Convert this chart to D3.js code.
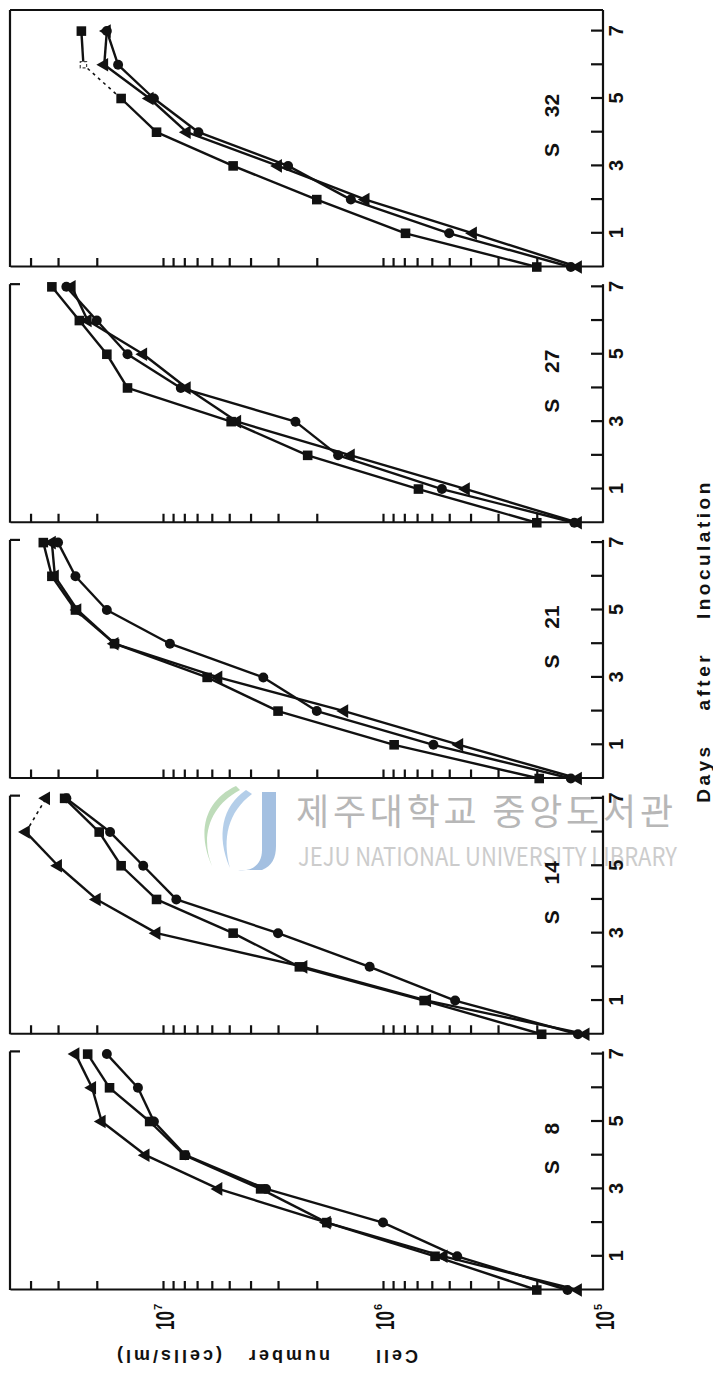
<!DOCTYPE html>
<html>
<head>
  <meta charset="utf-8">
  <title>Cell number after inoculation</title>
  <script src="https://d3js.org/d3.v7.min.js"></script>
  <style>
    body { margin: 0; background: #fff; }
    text { font-family: "Liberation Sans", Arial, sans-serif; font-weight: bold; fill: #111; }
    .frame line, .frame path { stroke: #111; stroke-width: 2.2; }
    .seg { stroke: #111; fill: none; }
    text.wm { font-family: "Noto Sans CJK KR", sans-serif; font-weight: normal; }
  </style>
</head>
<body>
<svg width="713" height="1374"></svg>
<script>
// ---- data (cells/ml, one value per day) ----
var days = [0, 1, 2, 3, 4, 5, 6, 7];
var strains = ["S 8", "S 14", "S 21", "S 27", "S 32"];
var dayTickLabels = [1, 3, 5, 7];
var cellTickLabels = [1e5, 1e6, 1e7];

var circleS8   = [1.45e5, 4.6e5, 1.0e6, 3.4e6, 7.9e6, 1.1e7, 1.3e7, 1.8e7];
var squareS8   = [2.0e5, 5.8e5, 1.8e6, 3.6e6, 8.0e6, 1.15e7, 1.75e7, 2.2e7];
var triangleS8 = [1.3e5, 5.3e5, 1.8e6, 5.6e6, 1.2e7, 1.9e7, 2.1e7, 2.5e7];

var circleS14   = [1.3e5, 4.7e5, 1.15e6, 3.0e6, 8.7e6, 1.23e7, 1.74e7, 2.75e7];
var squareS14   = [1.9e5, 6.5e5, 2.4e6, 4.8e6, 1.07e7, 1.55e7, 1.95e7, 2.8e7];
var triangleS14 = [1.2e5, 6.3e5, 2.3e6, 1.07e7, 2.0e7, 3.0e7, 4.2e7, 3.4e7];

var circleS21   = [1.4e5, 5.9e5, 2.0e6, 3.5e6, 9.3e6, 1.8e7, 2.5e7, 3.0e7];
var squareS21   = [1.95e5, 8.9e5, 3.0e6, 6.3e6, 1.66e7, 2.5e7, 3.2e7, 3.5e7];
var triangleS21 = [1.3e5, 4.5e5, 1.5e6, 5.6e6, 1.66e7, 2.45e7, 3.1e7, 3.2e7];

var circleS27   = [1.35e5, 5.4e5, 1.6e6, 2.5e6, 8.3e6, 1.45e7, 2.0e7, 2.75e7];
var squareS27   = [2.0e5, 6.9e5, 2.2e6, 4.9e6, 1.45e7, 1.8e7, 2.4e7, 3.2e7];
var triangleS27 = [1.3e5, 4.2e5, 1.4e6, 4.6e6, 7.8e6, 1.23e7, 2.2e7, 2.6e7];

var circleS32   = [1.4e5, 5.0e5, 1.4e6, 2.7e6, 6.9e6, 1.1e7, 1.6e7, 1.8e7];
var squareS32   = [2.0e5, 7.9e5, 2.0e6, 4.8e6, 1.07e7, 1.55e7, 2.3e7, 2.35e7];
var triangleS32 = [1.3e5, 3.9e5, 1.2e6, 3.0e6, 7.8e6, 1.15e7, 1.85e7, 1.8e7];

// segments drawn dashed: series of a strain, from day -> day+1
var dashed = [
  {strain: "S 14", series: "triangle", from: 6},
  {strain: "S 32", series: "square", from: 5}
];
// points printed only faintly (open mark)
var faint = [
  {strain: "S 32", series: "square", day: 6}
];

var seriesByStrain = [
  {circle: circleS8,  square: squareS8,  triangle: triangleS8},
  {circle: circleS14, square: squareS14, triangle: triangleS14},
  {circle: circleS21, square: squareS21, triangle: triangleS21},
  {circle: circleS27, square: squareS27, triangle: triangleS27},
  {circle: circleS32, square: squareS32, triangle: triangleS32}
];

var symbols = {circle: d3.symbolCircle, square: d3.symbolSquare, triangle: d3.symbolTriangle};
var symbolSize = {circle: 78, square: 92, triangle: 80};

var svg = d3.select("svg"),
    W = +svg.attr("width"),
    H = +svg.attr("height");

// library watermark of the scan, under the drawing
var wm = svg.append("g").attr("opacity", 0.85);
wm.append("path")
    .attr("d", "M236,786 C206,800 196,830 212,866 C200,836 210,806 240,790 Z")
    .style("fill", "#b3d6ae");
wm.append("path")
    .attr("d", "M246,790 C222,806 216,836 230,868 C222,838 228,812 252,794 Z")
    .style("fill", "#a8c6e6");
wm.append("path")
    .attr("d", "M262,792 L262,850 C262,866 250,872 238,870 L262,870 C272,866 276,858 276,846 L276,792 Z")
    .style("fill", "#95b6dc");
wm.append("text").attr("class", "wm").attr("x", 296).attr("y", 825)
    .attr("font-size", 36).attr("textLength", 377)
    .style("fill", "#ababab")
    .text("제주대학교 중앙도서관");
wm.append("text").attr("class", "wm").attr("x", 298).attr("y", 866)
    .attr("font-size", 25).attr("textLength", 379).attr("lengthAdjust", "spacingAndGlyphs")
    .style("fill", "#c4c4c4")
    .text("JEJU NATIONAL UNIVERSITY LIBRARY");

// ---- the figure is drawn upright, then turned a quarter turn ----
var fig = svg.append("g")
    .attr("transform", "translate(0," + H + ") rotate(-90)");

var firstDay0 = 84, panelStep = 255.75, dayPx = 33.7;
var axisV = 603, topV = 10;

var y = d3.scaleLog().domain([1e5, 4.96e7]).range([axisV, topV]);

strains.forEach(function(name, i) {
  var u0 = firstDay0 + i * panelStep;
  var x = d3.scaleLinear().domain([0, 7]).range([u0, u0 + 7 * dayPx]);
  var last = i === strains.length - 1;
  var uEnd = last ? H - 10 : x(7.08);

  var g = fig.append("g").attr("class", "frame");

  // cell-number axis (inner ticks)
  g.append("g")
      .attr("transform", "translate(" + u0 + ",0)")
      .call(d3.axisLeft(y).tickSize(-9).tickSizeOuter(0).tickFormat(""))
      .call(function(a) { a.selectAll(".tick").filter(function(d) { return d <= 1e5; }).remove(); });

  // day axis
  g.append("line").attr("x1", u0).attr("x2", uEnd).attr("y1", axisV).attr("y2", axisV);
  var dayAxis = g.append("g")
      .attr("transform", "translate(0," + axisV + ")")
      .call(d3.axisBottom(x).tickValues(days.slice(1)).tickSize(-12).tickSizeOuter(0)
            .tickPadding(6).tickFormat(function(d) { return dayTickLabels.indexOf(d) >= 0 ? d : ""; }));
  dayAxis.select(".domain").remove();
  dayAxis.selectAll("text").attr("font-size", 20).attr("fill", "#111")
      .style("font-family", "'Liberation Sans', Arial, sans-serif").style("font-weight", "bold");

  // top border and corner hook
  g.append("line").attr("x1", u0).attr("x2", uEnd).attr("y1", topV).attr("y2", topV);
  g.append("line").attr("x1", uEnd).attr("x2", uEnd).attr("y1", topV).attr("y2", last ? axisV : topV + 10);

  // panel title
  fig.append("text")
      .attr("x", x(4.2)).attr("y", 559)
      .attr("text-anchor", "middle")
      .attr("font-size", 21)
      .style("word-spacing", "20px")
      .text(name);

  // series
  var ser = seriesByStrain[i];
  ["triangle", "square", "circle"].forEach(function(key) {
    var vals = ser[key];
    for (var k = 0; k < days.length - 1; k++) {
      var isDashed = dashed.some(function(d) { return d.strain === name && d.series === key && d.from === days[k]; });
      fig.append("line").attr("class", "seg")
          .attr("x1", x(days[k])).attr("y1", y(vals[k]))
          .attr("x2", x(days[k + 1])).attr("y2", y(vals[k + 1]))
          .attr("stroke-dasharray", isDashed ? "3,4" : null)
          .attr("stroke-width", isDashed ? 1.6 : 2.4);
    }
    var isFaint = function(k) {
      return faint.some(function(f) { return f.strain === name && f.series === key && f.day === days[k]; });
    };
    fig.append("g").selectAll("path")
        .data(vals)
        .enter().append("path")
        .attr("transform", function(d, k) { return "translate(" + x(days[k]) + "," + y(d) + ")"; })
        .attr("d", function(d, k) {
          return d3.symbol().type(symbols[key]).size(isFaint(k) ? 40 : symbolSize[key])();
        })
        .attr("fill", function(d, k) { return isFaint(k) ? "#fff" : "#111"; })
        .attr("stroke", function(d, k) { return isFaint(k) ? "#444" : "none"; })
        .attr("stroke-width", 1.2)
        .attr("stroke-dasharray", function(d, k) { return isFaint(k) ? "3,2" : null; });
  });
});

// cell-number labels on first panel
var labels = fig.append("g");
cellTickLabels.forEach(function(v) {
  labels.append("text")
      .attr("x", 44).attr("y", y(v) + 11)
      .attr("font-size", 25)
      .attr("textLength", 19).attr("lengthAdjust", "spacingAndGlyphs")
      .text("10");
  labels.append("text")
      .attr("x", 64).attr("y", y(v) - 1)
      .attr("font-size", 11)
      .text(Math.round(Math.log10(v)));
});

var yl = fig.append("text")
    .attr("transform", "translate(24,418) rotate(-90)")
    .attr("font-size", 18)
    .style("letter-spacing", "3px");
yl.append("tspan").text("Cell");
yl.append("tspan").attr("dx", 43).text("number");
yl.append("tspan").attr("dx", 24).text("(cells/ml)");

fig.append("text")
    .attr("x", 733).attr("y", 710)
    .attr("text-anchor", "middle")
    .attr("font-size", 19)
    .style("letter-spacing", "3.5px")
    .style("word-spacing", "24px")
    .text("Days after Inoculation");
</script>
</body>
</html>
